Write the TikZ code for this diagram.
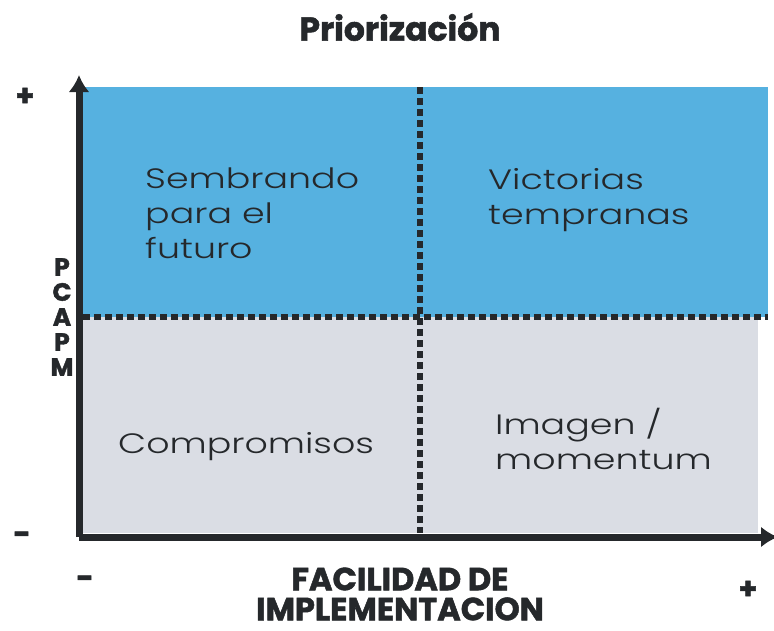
\documentclass[tikz,border=0pt]{standalone}
\usepackage{fontspec}
\setmainfont{Poppins}
\newfontfamily\quadfont[FakeStretch=1.3]{Poppins Light}
\newfontfamily\headfont{Poppins}[BoldFeatures={FakeBold=1.6}]
\usepackage{tikz}
\usetikzlibrary{arrows.meta}
\definecolor{QuadBlue}{HTML}{56B1E0}
\definecolor{QuadGrey}{HTML}{DADDE4}
\definecolor{AxisDark}{HTML}{25282B}

\begin{document}
\begin{tikzpicture}[x=1pt, y=-1pt, >={Latex[length=17pt,width=21pt]},
                    quadlabel/.style={anchor=north west, align=left, inner sep=0pt, text=AxisDark,
                                      font=\quadfont\fontsize{28}{35}\selectfont},
                    heading/.style={inner sep=0pt, align=center, text=AxisDark,
                                    font=\headfont\bfseries\fontsize{33}{34}\selectfont},
                    sign/.style={inner sep=0pt, text=AxisDark, font=\headfont\bfseries\fontsize{30}{30}\selectfont},
                    axis/.style={draw=AxisDark, line width=7pt},
                    divider/.style={draw=AxisDark, line width=6pt, dash pattern=on 7pt off 4pt}]
\useasboundingbox (0,0) rectangle (774,630);
% quadrants
\fill[QuadBlue] (83,87) rectangle (768,317);
\fill[QuadGrey] (83,317) rectangle (758,533);
\coordinate (midleft) at (83,317);
\coordinate (midright) at (768,317);
\coordinate (midtop) at (419.5,87);
\coordinate (midbottom) at (419.5,533);
\draw[divider] (midleft) -- (midright);
\draw[divider] (midtop) -- (midbottom);
% axes
\coordinate (origin) at (79,537);
\coordinate (ytip) at (79,75);
\coordinate (xtip) at (778,537);
\draw[axis,->] (origin) -- (ytip);
\draw[axis,->] (origin) -- (xtip);
% labels
\node[heading] (title) at (400,27) {Priorización};
\node[quadlabel] (seed) at (145,168) {Sembrando\\para el\\futuro};
\node[quadlabel] (wins) at (488,168) {Victorias\\tempranas};
\node[quadlabel] (deals) at (118,432) {Compromisos};
\node[quadlabel] (image) at (495,408) {Imagen /\\momentum};
\node[heading, font=\headfont\bfseries\fontsize{32}{30}\selectfont] (ease) at (400,594) {FACILIDAD DE\\IMPLEMENTACION};
\node[heading, font=\headfont\bfseries\fontsize{25}{25}\selectfont] (impact) at (62,317) {P\\C\\A\\P\\M};
\node[sign] (yplus) at (25,97) {+};
\node[sign] (yminus) at (22,538) {-};
\node[sign] (xminus) at (85,582) {-};
\node[sign] (xplus) at (748,590) {+};
\end{tikzpicture}
\end{document}
